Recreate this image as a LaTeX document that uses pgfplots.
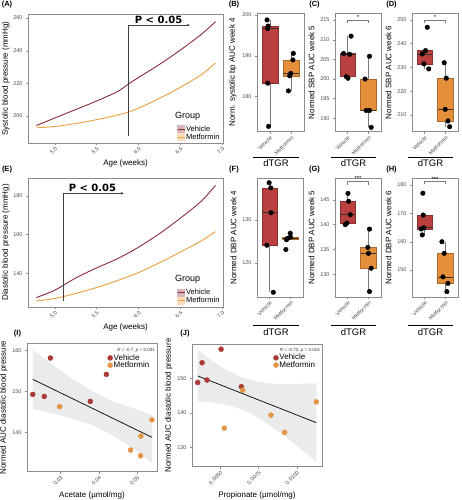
\documentclass[border=0pt]{standalone}
\usepackage{fontspec}
\setmainfont{Liberation Sans}
\newfontfamily\dejavu{DejaVu Sans}
\usepackage{pgfplots}
\pgfplotsset{compat=1.18}
\usetikzlibrary{arrows.meta}

\definecolor{vehC}{HTML}{B9403F}
\definecolor{metC}{HTML}{E58F3A}
\definecolor{vehL}{HTML}{8E2B3A}
\definecolor{metL}{HTML}{EB9E3F}
\definecolor{vehP}{HTML}{A93A35}
\definecolor{metP}{HTML}{E29445}
\definecolor{frameC}{HTML}{8C8C8C}
\definecolor{tickC}{HTML}{4D4D4D}
\definecolor{bandC}{HTML}{EBEBEB}
\definecolor{whiskC}{HTML}{7A7A7A}

\pgfplotsset{
  gg/.style={scale only axis, anchor=north west,
    axis line style={draw=frameC, line width=0.5pt},
    tick align=outside, tick pos=left, major tick length=2pt,
    tick style={draw=frameC, line width=0.4pt},
    ticklabel style={font=\fontsize{5.5}{6}\selectfont, text=tickC},
    label style={font=\fontsize{8}{9.5}\selectfont},
    /pgf/number format/assume math mode=true, scaled ticks=false},
  rot/.style={xticklabel style={rotate=45, anchor=north east, inner sep=1pt}},
  bx/.style={gg, rot, xmin=0.4, xmax=2.6, xtick={1,2}, xticklabels={Vehicle,Metformin}, clip=false, ylabel shift=-1pt},
  pts/.style={only marks, mark=*, mark size=2.3pt, black},
  leg/.style={legend style={draw=none, fill=none, anchor=north west, inner sep=0pt, row sep=-1pt, nodes={inner sep=1pt}}, legend cell align=left},
}
% box: #1 position, #2 left edge, #3 right edge, #4 lower whisker, #5 Q1, #6 median, #7 Q3, #8 upper whisker, #9 colour
\newcommand{\bxp}[9]{%
  \addplot[draw=whiskC, line width=0.5pt] coordinates {(#1,#4) (#1,#5)};
  \addplot[draw=whiskC, line width=0.5pt] coordinates {(#1,#7) (#1,#8)};
  \addplot[fill=#9, draw=#9!75!black, line width=0.4pt] coordinates {(#2,#5) (#3,#5) (#3,#7) (#2,#7)} -- cycle;
  \addplot[draw=black!80, line width=0.7pt] coordinates {(#2,#6) (#3,#6)};
}

\begin{document}
\begin{tikzpicture}
\path[use as bounding box] (0pt,0pt) rectangle (461pt,-500pt);

% ---------------- (A)
\begin{axis}[gg, rot, leg, at={(28pt,-14pt)}, width=195pt, height=129pt,
  xmin=4.68, xmax=7.01, ymin=183.5, ymax=262.5,
  xtick={5,5.5,6,6.5,7}, xticklabels={5.0,5.5,6.0,6.5,7.0}, ytick={200,220,240,260},
  xlabel={Age (weeks)}, ylabel={Systolic blood pressure (mmHg)}, ylabel shift=-3pt, clip=false,
  legend style={at={(0.764,0.143)}, font=\fontsize{7.5}{8.5}\selectfont}]
\addplot[vehL, line width=0.9pt, smooth,
  legend image code/.code={\fill[vehL!35] (0pt,-3.5pt) rectangle (7pt,3.5pt); \draw[vehL, line width=0.9pt] (0pt,0pt) -- (7pt,0pt);}]
  coordinates {(4.78,194.2) (5.0,198.8) (5.25,204.0) (5.5,209.2) (5.75,215.0) (5.88,219.6) (6.0,223.6) (6.25,231.6) (6.5,240.4) (6.75,250.0) (6.92,257.8)};
\addlegendentry{Vehicle}
\addplot[metL, line width=0.9pt, smooth,
  legend image code/.code={\fill[metL!35] (0pt,-3.5pt) rectangle (7pt,3.5pt); \draw[metL, line width=0.9pt] (0pt,0pt) -- (7pt,0pt);}]
  coordinates {(4.78,192.8) (5.0,193.6) (5.25,195.4) (5.5,197.8) (5.75,200.6) (5.88,202.5) (6.0,204.8) (6.25,210.8) (6.5,217.6) (6.75,225.3) (6.92,232.5)};
\addlegendentry{Metformin}
\draw[black!75, line width=0.6pt, -{Latex[length=3pt, width=2.4pt]}] (axis cs:5.88,187.8) -- (axis cs:5.88,255.7) -- (axis cs:6.62,255.7);
\node[font=\dejavu\bfseries\fontsize{10}{11}\selectfont, inner sep=0pt] at (axis cs:6.24,258.9) {P < 0.05};
\end{axis}
\node[anchor=west, inner sep=0pt, font=\fontsize{9}{10}\selectfont] at (175pt,-116pt) {Group};

% ---------------- (B)
\begin{axis}[bx, at={(257pt,-13pt)}, width=47pt, height=118.7pt, ymin=171.4, ymax=200.5,
  ytick={180,190,200}, ylabel={Norm. systolic bp AUC week 4}]
\bxp{1}{0.625}{1.375}{172.7}{183.3}{196.7}{197.3}{198.8}{vehC}
\bxp{2}{1.625}{2.375}{181.4}{185.1}{185.7}{189.0}{190.6}{metC}
\addplot[pts] coordinates {(0.87,198.8) (0.92,197.3) (0.90,196.7) (0.90,183.3) (0.94,172.7)
  (2.10,190.6) (2.08,189.0) (1.98,185.7) (1.93,185.1) (1.87,181.4)};
\end{axis}

% ---------------- (C)
\begin{axis}[bx, at={(335pt,-13pt)}, width=46pt, height=118.7pt, ymin=186.6, ymax=216.8,
  ytick={190,195,200,205,210,215}, ylabel={Normed SBP AUC week 5}]
\bxp{1}{0.625}{1.375}{200.2}{200.6}{206.3}{206.5}{210.9}{vehC}
\bxp{2}{1.625}{2.375}{187.7}{192.0}{192.0}{200.0}{205.8}{metC}
\addplot[pts] coordinates {(1.17,210.9) (0.81,206.5) (1.10,206.3) (0.94,200.6) (1.02,200.2)
  (2.05,205.8) (1.84,200.0) (1.89,192.0) (2.05,192.0) (2.13,187.7)};
\draw[whiskC, line width=0.4pt] (axis cs:1,214.2) -- (axis cs:1,215) -- (axis cs:2,215) -- (axis cs:2,214.2);
\node[font=\fontsize{6}{6}\selectfont, anchor=south, inner sep=0.3pt] at (axis cs:1.5,215) {*};
\end{axis}

% ---------------- (D)
\begin{axis}[bx, at={(412pt,-13pt)}, width=46pt, height=118.7pt, ymin=203, ymax=252.9,
  ytick={210,220,230,240,250}, ylabel={Normed SBP AUC week 6}]
\bxp{1}{0.625}{1.375}{229.4}{231.5}{235.7}{237.1}{237.1}{vehC}
\bxp{2}{1.625}{2.375}{205.1}{207.5}{212.4}{225.5}{232.0}{metC}
\addplot[pts] coordinates {(1.13,246.9) (1.05,237.1) (0.89,235.7) (0.97,231.5) (1.20,229.4)
  (1.94,232.0) (2.04,225.5) (1.99,212.4) (2.12,207.5) (2.20,205.1)};
\draw[whiskC, line width=0.4pt] (axis cs:1,248.6) -- (axis cs:1,250) -- (axis cs:2,250) -- (axis cs:2,248.6);
\node[font=\fontsize{6}{6}\selectfont, anchor=south, inner sep=0.3pt] at (axis cs:1.5,250) {*};
\end{axis}

% ---------------- (E)
\begin{axis}[gg, rot, leg, at={(28pt,-178pt)}, width=195pt, height=129pt,
  xmin=4.68, xmax=7.01, ymin=122.6, ymax=189.3,
  xtick={5,5.5,6,6.5,7}, xticklabels={5.0,5.5,6.0,6.5,7.0}, ytick={140,160,180},
  xlabel={Age (weeks)}, ylabel={Diastolic blood pressure (mmHg)}, ylabel shift=-3pt, clip=false,
  legend style={at={(0.764,0.147)}, font=\fontsize{7.5}{8.5}\selectfont}]
\addplot[vehL, line width=0.9pt, smooth,
  legend image code/.code={\fill[vehL!35] (0pt,-3.5pt) rectangle (7pt,3.5pt); \draw[vehL, line width=0.9pt] (0pt,0pt) -- (7pt,0pt);}]
  coordinates {(4.78,127.5) (5.0,131.3) (5.25,137.6) (5.5,142.8) (5.75,147.6) (6.0,153.5) (6.25,160.5) (6.5,168.5) (6.75,177.3) (6.92,185.5)};
\addlegendentry{Vehicle}
\addplot[metL, line width=0.9pt, smooth,
  legend image code/.code={\fill[metL!35] (0pt,-3.5pt) rectangle (7pt,3.5pt); \draw[metL, line width=0.9pt] (0pt,0pt) -- (7pt,0pt);}]
  coordinates {(4.78,125.7) (5.0,127.0) (5.25,129.6) (5.5,132.7) (5.75,136.3) (6.0,140.4) (6.25,145.5) (6.5,151.0) (6.75,156.8) (6.92,161.6)};
\addlegendentry{Metformin}
\draw[black!75, line width=0.6pt, -{Latex[length=3pt, width=2.4pt]}] (axis cs:5.1,125.7) -- (axis cs:5.1,181.4) -- (axis cs:5.83,181.4);
\node[font=\dejavu\bfseries\fontsize{10}{11}\selectfont, inner sep=0pt] at (axis cs:5.45,184.0) {P < 0.05};
\end{axis}
\node[anchor=west, inner sep=0pt, font=\fontsize{9}{10}\selectfont] at (175pt,-279.3pt) {Group};

% ---------------- (F)
\begin{axis}[bx, at={(257pt,-178.5pt)}, width=46pt, height=118.5pt, ymin=112, ymax=139.7,
  ytick={120,130}, ylabel={Normed DBP AUC week 4}]
\bxp{1}{0.625}{1.375}{113.1}{124.1}{131.7}{137.5}{138.7}{vehC}
\bxp{2}{1.625}{2.375}{125.4}{125.4}{125.7}{126.0}{126.9}{metC}
\addplot[pts] coordinates {(0.98,138.7) (1.06,137.5) (1.07,131.7) (0.87,124.1) (1.18,113.1)
  (1.99,126.9) (2.00,126.0) (1.86,125.7) (1.81,125.4) (1.78,123.1)};
\end{axis}

% ---------------- (G)
\begin{axis}[bx, at={(335pt,-178.5pt)}, width=46pt, height=118.5pt, ymin=125.4, ymax=149.3,
  ytick={130,135,140,145}, ylabel={Normed DBP AUC week 5}]
\bxp{1}{0.625}{1.375}{140.0}{140.3}{142.0}{144.7}{146.3}{vehC}
\bxp{2}{1.625}{2.375}{126.5}{131.2}{134.2}{135.4}{139.1}{metC}
\addplot[pts] coordinates {(1.02,146.3) (1.05,144.7) (1.13,142.0) (0.97,140.3) (0.89,140.0)
  (2.05,139.1) (1.97,135.4) (2.00,134.2) (2.13,131.2) (2.05,126.5)};
\draw[whiskC, line width=0.4pt] (axis cs:1,148.0) -- (axis cs:1,148.7) -- (axis cs:2,148.7) -- (axis cs:2,148.0);
\node[font=\fontsize{6}{6}\selectfont, anchor=south, inner sep=0.3pt] at (axis cs:1.5,148.7) {***};
\end{axis}

% ---------------- (H)
\begin{axis}[bx, at={(412pt,-178.5pt)}, width=46pt, height=118.5pt, ymin=140.5, ymax=182.3,
  ytick={150,160,170,180}, ylabel={Normed DBP AUC week 6}]
\bxp{1}{0.625}{1.375}{162.4}{164.5}{164.9}{169.4}{169.4}{vehC}
\bxp{2}{1.625}{2.375}{142.4}{145.3}{147.6}{155.9}{160.0}{metC}
\addplot[pts] coordinates {(0.92,177.1) (0.94,169.4) (0.97,164.9) (0.84,164.5) (0.89,162.4)
  (1.83,160.0) (1.94,155.9) (1.88,147.6) (2.12,145.3) (2.07,142.4)};
\draw[whiskC, line width=0.4pt] (axis cs:1,180.2) -- (axis cs:1,181.2) -- (axis cs:2,181.2) -- (axis cs:2,180.2);
\node[font=\fontsize{6}{6}\selectfont, anchor=south, inner sep=0.3pt] at (axis cs:1.5,181.2) {***};
\end{axis}

% ---------------- (I)
\begin{axis}[gg, rot, leg, at={(27pt,-343.3pt)}, width=130pt, height=128.4pt,
  xmin=0.0213, xmax=0.0552, ymin=130.4, ymax=161.8,
  xtick={0.03,0.04,0.05}, xticklabels={0.03,0.04,0.05}, ytick={140,150,160},
  xlabel={Acetate (µmol/mg)}, ylabel={Normed AUC diastolic blood pressure}, ylabel shift=-2pt, xlabel shift=1pt,
  legend style={at={(0.619,0.924)}, font=\fontsize{8}{9}\selectfont, row sep=-2pt}]
\addplot[fill=bandC, draw=none, forget plot] coordinates {(0.0228,160.3) (0.028,156.5) (0.033,153.2) (0.038,150.3) (0.041,148.8) (0.044,147.5) (0.049,145.9) (0.0539,144.3)
  (0.0539,132.5) (0.049,136.1) (0.044,139.1) (0.041,140.6) (0.038,141.9) (0.033,143.4) (0.028,144.7) (0.0228,145.7)} -- cycle;
\addplot[black, line width=0.7pt, forget plot] coordinates {(0.0228,153.0) (0.0539,138.8)};
\addplot[only marks, mark=*, mark size=2.5pt, vehP] coordinates {(0.0228,149.3) (0.0258,148.8) (0.0274,158.2) (0.0378,147.6) (0.042,154.2)};
\addlegendentry{Vehicle}
\addplot[only marks, mark=*, mark size=2.5pt, metP] coordinates {(0.0298,146.3) (0.0483,135.7) (0.0509,134.3) (0.051,139.1) (0.0539,143.1)};
\addlegendentry{Metformin}
\end{axis}
\node[anchor=east, inner sep=0pt, font=\fontsize{4.5}{5}\selectfont, text=black!80] at (155pt,-350pt) {\textit{R} = -0.7, \textit{p} = 0.031};

% ---------------- (J)
\begin{axis}[gg, rot, leg, at={(192pt,-344pt)}, width=130pt, height=122.7pt,
  xmin=0.00315, xmax=0.01164, ymin=124.5, ymax=159.9,
  xtick={0.005,0.0075,0.01}, xticklabels={0.0050,0.0075,0.0100}, ytick={130,140,150},
  xlabel={Propionate (µmol/mg)}, ylabel={Normed AUC diastolic blood pressure}, ylabel shift=-2pt, xlabel shift=2pt,
  legend style={at={(0.625,0.927)}, font=\fontsize{8}{9}\selectfont, row sep=-2pt}]
\addplot[fill=bandC, draw=none, forget plot] coordinates {(0.00352,158.2) (0.0045,155.0) (0.0055,152.2) (0.0065,150.15) (0.0075,149.0) (0.0085,148.4) (0.0095,148.3) (0.01127,148.6)
  (0.01127,126.0) (0.0095,132.3) (0.0085,135.6) (0.0075,138.55) (0.0065,140.85) (0.0055,142.3) (0.0045,143.0) (0.00352,143.3)} -- cycle;
\addplot[black, line width=0.7pt, forget plot] coordinates {(0.00352,150.7) (0.01127,137.2)};
\addplot[only marks, mark=*, mark size=2.5pt, vehP] coordinates {(0.00352,148.8) (0.00381,154.5) (0.00413,149.5) (0.00505,158.4) (0.00637,147.6)};
\addlegendentry{Vehicle}
\addplot[only marks, mark=*, mark size=2.5pt, metP] coordinates {(0.00526,135.6) (0.00646,146.6) (0.00831,139.4) (0.0092,134.4) (0.01127,143.2)};
\addlegendentry{Metformin}
\end{axis}
\node[anchor=east, inner sep=0pt, font=\fontsize{4.5}{5}\selectfont, text=black!80] at (320pt,-350pt) {\textit{R} = -0.72, \textit{p} = 0.024};

% ---------------- dTGR group labels
\foreach \a/\b in {253/299, 331/376, 408/453}{
  \draw[black, line width=0.6pt] (\a pt,-157pt) -- (\b pt,-157pt);
  \node[font=\fontsize{9.5}{10}\selectfont, inner sep=0pt] at ({(\a+\b)/2*1pt},-163.5pt) {dTGR};
  \draw[black, line width=0.6pt] (\a pt,-325pt) -- (\b pt,-325pt);
  \node[font=\fontsize{9.5}{10}\selectfont, inner sep=0pt] at ({(\a+\b)/2*1pt},-332.5pt) {dTGR};
}

% ---------------- panel labels
\begin{scope}[every node/.style={font=\bfseries\fontsize{7.5}{8}\selectfont, inner sep=0pt}]
\node at (7pt,-5pt) {(A)};
\node at (234pt,-5pt) {(B)};
\node at (314.5pt,-5pt) {(C)};
\node at (391.5pt,-5pt) {(D)};
\node at (7pt,-170pt) {(E)};
\node at (234pt,-170pt) {(F)};
\node at (314.5pt,-170pt) {(G)};
\node at (391.5pt,-170pt) {(H)};
\node at (17.5pt,-333.5pt) {(I)};
\node at (185pt,-334pt) {(J)};
\end{scope}
\end{tikzpicture}
\end{document}
